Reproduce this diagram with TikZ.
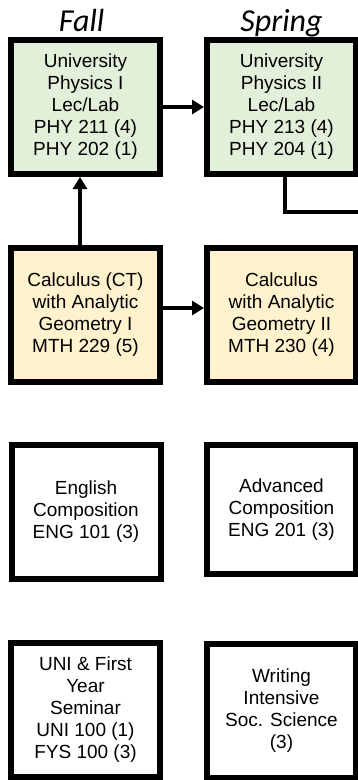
\documentclass[tikz,border=0pt]{standalone}
\usepackage{fontspec}
\setmainfont{Liberation Sans}
\newfontfamily\termfont{Carlito}
\usetikzlibrary{arrows.meta}

\definecolor{phygreen}{RGB}{226,239,217}
\definecolor{calcyellow}{RGB}{255,242,204}

\def\boxw{149pt}
\def\boxh{134pt}

\begin{document}
\begin{tikzpicture}[x=1pt,y=-1pt,>={Triangle[length=12pt,width=14pt]},line width=4pt]
    \tikzstyle{course}=[draw=black,line width=6pt,minimum width=\boxw,minimum height=\boxh,inner sep=0pt,align=center,font=\fontsize{19}{22}\selectfont]
    \tikzstyle{term}=[font=\termfont\itshape\fontsize{32}{34}\selectfont,inner sep=0pt]

    \useasboundingbox (0,0) rectangle (358,780);

    % fall column
    \node[course,fill=phygreen] (phyI) at (85.5,107) {University\\Physics I\\Lec/Lab\\PHY 211 (4)\\PHY 202 (1)};
    \node[course,fill=calcyellow] (calcI) at (85.5,315) {Calculus (CT)\\with Analytic\\Geometry I\\MTH 229 (5)};
    \node[course] (engI) at (86,512) {English\\Composition\\ENG 101 (3)};
    \node[course] (uni) at (85.5,710) {UNI \& First\\Year\\Seminar\\UNI 100 (1)\\FYS 100 (3)};

    % spring column
    \node[course,fill=phygreen] (phyII) at (281.5,107) {University\\Physics II\\Lec/Lab\\PHY 213 (4)\\PHY 204 (1)};
    \node[course,fill=calcyellow] (calcII) at (281.5,315) {Calculus\\with Analytic\\Geometry II\\MTH 230 (4)};
    \node[course,minimum height=129pt] (engII) at (281.5,509.5) {Advanced\\Composition\\ENG 201 (3)};
    \node[course] (wi) at (281.5,711) {Writing\\Intensive\\Soc. Science\\(3)};

    \node[term,anchor=base] (fall) at ([xshift=-4pt]phyI.north |- 0,31) {Fall};
    \node[term,anchor=base] (spring) at (phyII.north |- 0,31) {Spring};

    \coordinate (next) at (358,212);

    \draw[->] (phyI) -- (phyII);
    \draw[->] ([yshift=7pt]calcI.east) -- ([yshift=7pt]calcII.west);
    \draw[->] ([xshift=-5.5pt]calcI.north) -- ([xshift=-5.5pt]phyI.south);
    \draw[line width=3.5pt] ([xshift=3.5pt]phyII.south) |- (next);
\end{tikzpicture}
\end{document}
